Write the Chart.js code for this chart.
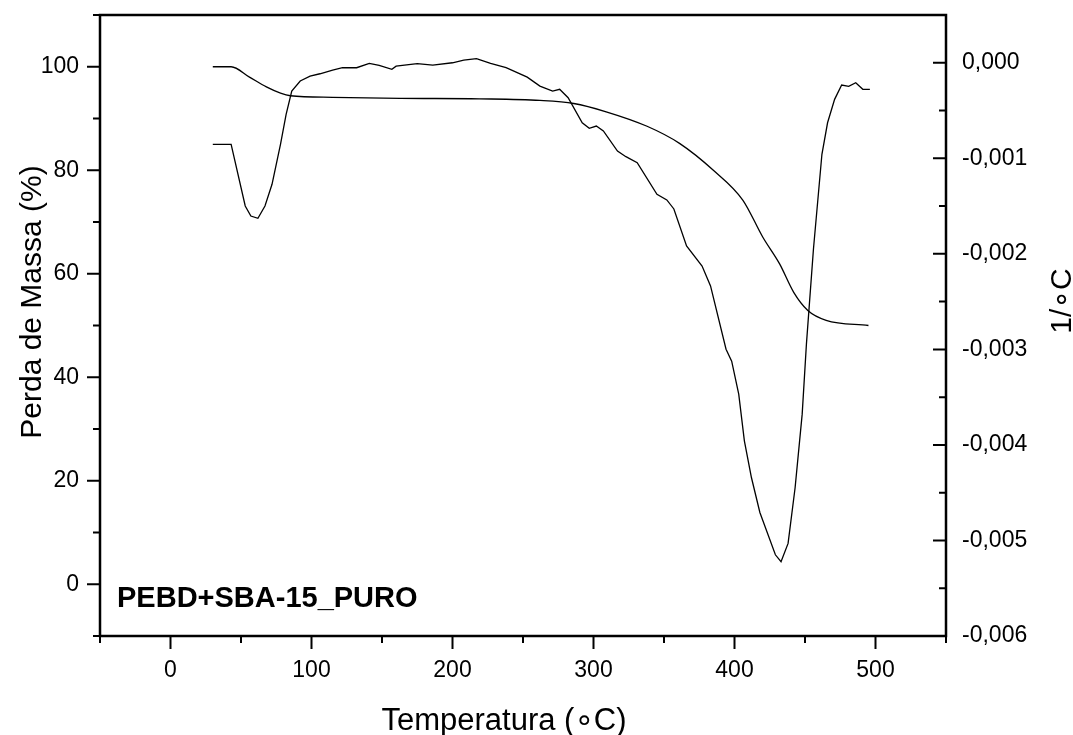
<!DOCTYPE html>
<html>
<head>
<meta charset="utf-8">
<title>PEBD+SBA-15_PURO</title>
<script src="https://cdn.jsdelivr.net/npm/chart.js@4/dist/chart.umd.min.js"></script>
<style>
  html, body { margin: 0; padding: 0; background: #fff; }
  canvas { display: block; }
</style>
</head>
<body>
<canvas id="c" width="1073" height="735"></canvas>
<script>
// Mass curve (TG), left axis
const tgTemp = [30, 43, 56, 68, 78, 85, 115, 163, 219, 262, 286, 309, 338, 361, 385, 406, 420, 432, 442, 452, 465, 495];
const tgMass = [100.0, 100.0, 98.0, 96.1, 94.9, 94.4, 94.1, 93.9, 93.8, 93.5, 92.9, 91.3, 88.5, 85.2, 80.0, 74.2, 67.1, 61.9, 56.4, 52.9, 51.0, 50.0];

// Derivative curve (DTG), right axis, in 1/°C
const dtgTemp = [30, 43, 53, 57, 62, 67, 72, 78, 82, 86, 92, 99, 106, 115, 122, 132, 141, 148, 157, 160, 175, 186, 200, 208, 217, 227, 238, 253, 262, 271, 276, 282, 292, 297, 302, 307, 317, 323, 331, 345, 352, 357, 366, 377, 383, 394, 398, 403, 407, 412, 418, 429, 433, 438, 443, 448, 451, 456, 462, 466, 471, 476, 481, 486, 491, 496];
const dtgValue = [-0.000854, -0.000854, -0.001499, -0.001604, -0.001628, -0.001499, -0.001272, -0.000854, -0.000540, -0.000296, -0.000191, -0.000139, -0.000115, -0.000076, -0.000052, -0.000052, -0.000006, -0.000027, -0.000069, -0.000035, -0.000008, -0.000024, 0.000000, 0.000028, 0.000044, -0.000006, -0.000052, -0.000150, -0.000244, -0.000296, -0.000278, -0.000366, -0.000628, -0.000686, -0.000662, -0.000714, -0.000924, -0.000983, -0.001046, -0.001377, -0.001436, -0.001530, -0.001917, -0.002127, -0.002336, -0.002998, -0.003124, -0.003469, -0.003957, -0.004341, -0.004707, -0.005150, -0.005223, -0.005031, -0.004446, -0.003678, -0.002946, -0.001949, -0.000958, -0.000628, -0.000383, -0.000233, -0.000247, -0.000209, -0.000278, -0.000278];

// Axis ticks
const tempMajor = [0, 100, 200, 300, 400, 500];
const tempMinor = [-50, 50, 150, 250, 350, 450, 550];
const massMajor = [0, 20, 40, 60, 80, 100];
const massMinor = [-10, 10, 30, 50, 70, 90, 110];
const dtgMajor = [0, -0.001, -0.002, -0.003, -0.004, -0.005, -0.006];
const dtgMinor = [0.0005, -0.0005, -0.0015, -0.0025, -0.0035, -0.0045, -0.0055];

const sampleLabel = 'PEBD+SBA-15_PURO';
const xTitle = 'Temperatura (\u2218C)';
const yTitle = 'Perda de Massa (%)';
const y2Title = '1/\u2218C';

const FONT = '"Liberation Sans", Arial, "DejaVu Sans", sans-serif';

const tickFont = { family: FONT, size: 23 };

function setTicks(values) {
  return scale => { scale.ticks = values.map(v => ({ value: v })); };
}

// fixed box sizes so the plot frame sits at a known place
function fixWidth(w) {
  return s => { s.width = w; s.paddingTop = 0; s.paddingBottom = 0; };
}
function fixHeight(h) {
  return s => { s.height = h; s.paddingLeft = 0; s.paddingRight = 0; };
}

// Frame, tick marks and free text
const framePlugin = {
  id: 'frame',
  beforeDraw(chart) {
    const { ctx, width, height } = chart;
    ctx.save();
    ctx.fillStyle = '#fff';
    ctx.fillRect(0, 0, width, height);
    ctx.restore();
  },
  afterDraw(chart) {
    const { ctx, chartArea: a, scales } = chart;
    ctx.save();
    ctx.strokeStyle = '#000';
    ctx.lineCap = 'butt';

    // tick marks
    ctx.lineWidth = 2;
    ctx.beginPath();
    massMajor.forEach(v => { const y = scales.y.getPixelForValue(v); ctx.moveTo(a.left - 13, y); ctx.lineTo(a.left, y); });
    massMinor.forEach(v => { const y = scales.y.getPixelForValue(v); ctx.moveTo(a.left - 7, y); ctx.lineTo(a.left, y); });
    tempMajor.forEach(v => { const x = scales.x.getPixelForValue(v); ctx.moveTo(x, a.bottom); ctx.lineTo(x, a.bottom + 13); });
    tempMinor.forEach(v => { const x = scales.x.getPixelForValue(v); ctx.moveTo(x, a.bottom); ctx.lineTo(x, a.bottom + 7); });
    dtgMajor.forEach(v => { const y = scales.y2.getPixelForValue(v); ctx.moveTo(a.right - 13, y); ctx.lineTo(a.right, y); });
    dtgMinor.forEach(v => { const y = scales.y2.getPixelForValue(v); ctx.moveTo(a.right - 7, y); ctx.lineTo(a.right, y); });
    ctx.stroke();

    // plot frame
    ctx.lineWidth = 2.5;
    ctx.strokeRect(a.left, a.top, a.right - a.left, a.bottom - a.top);

    // texts
    ctx.fillStyle = '#000';
    ctx.textBaseline = 'alphabetic';

    ctx.font = 'bold 29px ' + FONT;
    ctx.textAlign = 'left';
    ctx.fillText(sampleLabel, 117, 607);

    ctx.font = '31px ' + FONT;
    ctx.textAlign = 'center';
    ctx.fillText(xTitle, 504, 730);

    ctx.font = '30px ' + FONT;
    ctx.save();
    ctx.translate(41, 302);
    ctx.rotate(-Math.PI / 2);
    ctx.fillText(yTitle, 0, 0);
    ctx.restore();

    ctx.save();
    ctx.translate(1071, 301);
    ctx.rotate(-Math.PI / 2);
    ctx.fillText(y2Title, 0, 0);
    ctx.restore();

    ctx.restore();
  }
};

const toPoints = (xs, ys) => xs.map((x, i) => ({ x, y: ys[i] }));

new Chart(document.getElementById('c'), {
  type: 'line',
  data: {
    datasets: [
      {
        label: 'TG',
        data: toPoints(tgTemp, tgMass),
        yAxisID: 'y',
        borderColor: '#000',
        borderWidth: 1.3,
        pointRadius: 0,
        fill: false,
        cubicInterpolationMode: 'monotone'
      },
      {
        label: 'DTG',
        data: toPoints(dtgTemp, dtgValue),
        yAxisID: 'y2',
        borderColor: '#000',
        borderWidth: 1.3,
        pointRadius: 0,
        fill: false,
        tension: 0
      }
    ]
  },
  options: {
    responsive: false,
    animation: false,
    devicePixelRatio: 1,
    layout: { autoPadding: false, padding: { top: 15, left: 0, right: 0, bottom: 0 } },
    plugins: { legend: { display: false }, tooltip: { enabled: false } },
    scales: {
      x: {
        type: 'linear',
        position: 'bottom',
        min: -50,
        max: 550,
        grid: { display: false, drawTicks: false },
        border: { display: false },
        afterBuildTicks: setTicks(tempMajor),
        afterFit: fixHeight(99),
        ticks: { font: tickFont, color: '#000', padding: 21, maxRotation: 0, autoSkip: false, callback: v => String(v) }
      },
      y: {
        type: 'linear',
        position: 'left',
        min: -10,
        max: 110,
        grid: { display: false, drawTicks: false },
        border: { display: false },
        afterBuildTicks: setTicks(massMajor),
        afterFit: fixWidth(100),
        ticks: { font: tickFont, color: '#000', padding: 21, autoSkip: false, callback: v => String(v) }
      },
      y2: {
        type: 'linear',
        position: 'right',
        min: -0.006,
        max: 0.0005,
        grid: { display: false, drawTicks: false },
        border: { display: false },
        afterBuildTicks: setTicks(dtgMajor),
        afterFit: fixWidth(127),
        ticks: { font: tickFont, color: '#000', padding: 16, autoSkip: false, callback: v => v.toFixed(3).replace('.', ',') }
      }
    }
  },
  plugins: [framePlugin]
});
</script>
</body>
</html>
